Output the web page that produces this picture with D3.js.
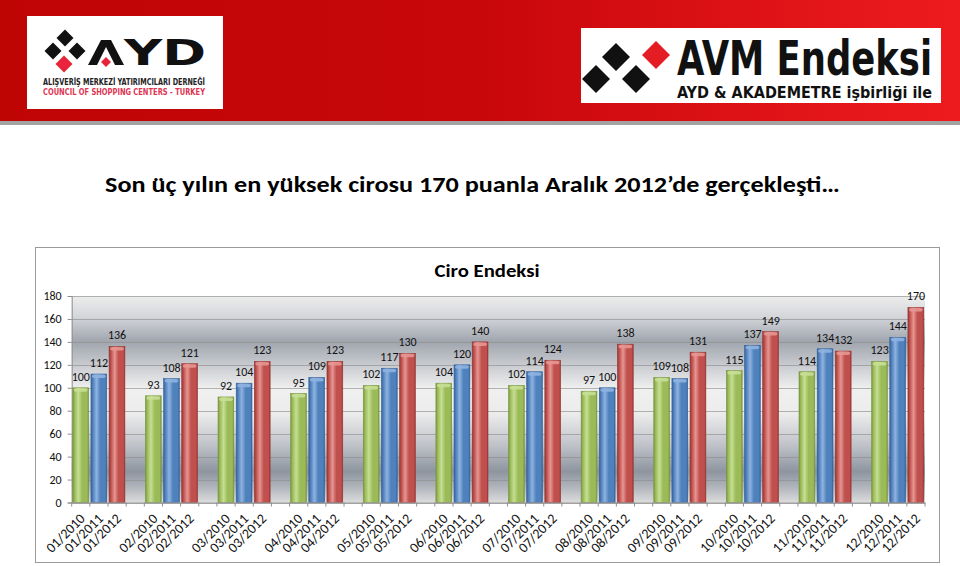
<!DOCTYPE html>
<html>
<head>
<meta charset="utf-8">
<script src="https://cdn.jsdelivr.net/npm/d3@7"></script>
<style>
html,body{margin:0;padding:0;background:#fff;}
svg{display:block;}
</style>
</head>
<body>
<svg id="c" width="960" height="566"></svg>
<script>
// ---------- DATA ----------
const months = ["01","02","03","04","05","06","07","08","09","10","11","12"];
const years = ["2010","2011","2012"];
const values2010 = [100, 93, 92, 95, 102, 104, 102, 97, 109, 115, 114, 123];
const values2011 = [112, 108, 104, 109, 117, 120, 114, 100, 108, 137, 134, 144];
const values2012 = [136, 121, 123, 123, 130, 140, 124, 138, 131, 149, 132, 170];
const yTicks = [0, 20, 40, 60, 80, 100, 120, 140, 160, 180];
const pageTitle = "Son üç yılın en yüksek cirosu 170 puanla Aralık 2012’de gerçekleşti…";
const chartTitle = "Ciro Endeksi";

const seriesValues = [values2010, values2011, values2012];
const seriesColors = [
  {dark:"#789640", base:"#9bbb59", light:"#c6df93"},
  {dark:"#36629a", base:"#4f81bd", light:"#8fb3e0"},
  {dark:"#983532", base:"#c0504d", light:"#e69692"}
];

// slots: 3 bars per month + an empty slot between month groups
const slots = [];
const bars = [];
months.forEach((m, i) => {
  years.forEach((yr, s) => {
    const key = m + "/" + yr;
    slots.push(key);
    bars.push({key, series: s, value: seriesValues[s][i]});
  });
  if (i < months.length - 1) slots.push("gap" + i);
});

const svg = d3.select("#c");
const defs = svg.append("defs");
const FONT = "Carlito, Lato, 'Open Sans', sans-serif";

// ---------- HEADER ----------
const hg = defs.append("linearGradient").attr("id","hdr").attr("x1",0).attr("x2",1).attr("y1",0).attr("y2",0);
hg.append("stop").attr("offset",0).attr("stop-color","#bf0404");
hg.append("stop").attr("offset",0.5).attr("stop-color","#c8070b");
hg.append("stop").attr("offset",1).attr("stop-color","#ee1b1e");
svg.append("rect").attr("x",0).attr("y",0).attr("width",960).attr("height",121).attr("fill","url(#hdr)");
svg.append("rect").attr("x",0).attr("y",121).attr("width",960).attr("height",4).attr("fill","#a3a3a3");

function diamond(g, cx, cy, r, fill) {
  g.append("path").attr("d", `M${cx},${cy-r}L${cx+r},${cy}L${cx},${cy+r}L${cx-r},${cy}Z`).attr("fill", fill);
}

// left logo
const LG = svg.append("g");
LG.append("rect").attr("x",27).attr("y",16).attr("width",196).attr("height",93).attr("fill","#fff");
diamond(LG, 65, 38, 8.5, "#111");
diamond(LG, 53, 51, 8.5, "#111");
diamond(LG, 77, 51, 8.5, "#111");
diamond(LG, 64, 64, 8.5, "#e8243c");
LG.append("path").attr("d","M88,65L101,40L111,40L124,65L115,65L106,47L97,65Z").attr("fill","#111");
diamond(LG, 106, 62, 5, "#e8243c");
LG.append("text").attr("x",124).attr("y",65).attr("font-family","'DejaVu Sans', sans-serif").attr("font-weight","bold")
  .attr("font-size",36).attr("textLength",82).attr("lengthAdjust","spacingAndGlyphs").attr("fill","#111").text("YD");
LG.append("text").attr("x",43).attr("y",85).attr("font-family","'DejaVu Sans Condensed', 'DejaVu Sans', sans-serif").attr("font-weight","bold")
  .attr("font-size",9).attr("textLength",162).attr("lengthAdjust","spacingAndGlyphs").attr("fill","#222").text("ALIŞVERİŞ MERKEZİ YATIRIMCILARI DERNEĞİ");
LG.append("text").attr("x",43).attr("y",95).attr("font-family","'DejaVu Sans Condensed', 'DejaVu Sans', sans-serif").attr("font-weight","bold")
  .attr("font-size",9).attr("textLength",162).attr("lengthAdjust","spacingAndGlyphs").attr("fill","#e03553").text("COUNCIL OF SHOPPING CENTERS - TURKEY");

// right logo
const RG = svg.append("g");
RG.append("rect").attr("x",581).attr("y",28).attr("width",360).attr("height",75).attr("fill","#fff");
diamond(RG, 596, 79, 14, "#111");
diamond(RG, 616, 57, 14, "#111");
diamond(RG, 636, 79, 14, "#111");
diamond(RG, 656, 55, 14, "#e41d24");
RG.append("text").attr("x",677).attr("y",75).attr("font-family","'Liberation Sans Narrow', 'DejaVu Sans Condensed', sans-serif").attr("font-weight","bold")
  .attr("font-size",48).attr("textLength",255).attr("lengthAdjust","spacingAndGlyphs").attr("fill","#111").text("AVM Endeksi");
RG.append("text").attr("x",677).attr("y",98).attr("font-family","'DejaVu Sans Condensed', 'DejaVu Sans', sans-serif").attr("font-weight","bold")
  .attr("font-size",16).attr("textLength",255).attr("lengthAdjust","spacingAndGlyphs").attr("fill","#111").text("AYD & AKADEMETRE işbirliği ile");

// ---------- PAGE TITLE ----------
svg.append("text").attr("x",105).attr("y",192).attr("font-family",FONT).attr("font-weight","bold")
  .attr("font-size",23).attr("textLength",735).attr("lengthAdjust","spacingAndGlyphs").attr("fill","#000").text(pageTitle);

// ---------- CHART FRAME ----------
svg.append("rect").attr("x",35.5).attr("y",247.5).attr("width",904).attr("height",315).attr("fill","#fff").attr("stroke","#9a9a9a");
svg.append("text").attr("x",487).attr("y",277).attr("text-anchor","middle").attr("font-family",FONT).attr("font-weight","bold")
  .attr("font-size",18).attr("textLength",105).attr("lengthAdjust","spacingAndGlyphs").attr("fill","#000").text(chartTitle);

// ---------- SCALES ----------
const pL = 71.7, pR = 925, pT = 296, pB = 502.5;
const x = d3.scaleBand().domain(slots).range([pL, pR]).padding(0);
const y = d3.scaleLinear().domain([0, 180]).range([pB, pT]);
const step = x.bandwidth();

// plot background gradient
const bgGrad = defs.append("linearGradient").attr("id","plotbg").attr("x1",0).attr("x2",0).attr("y1",0).attr("y2",1);
[[0,"#ededed"],[0.1,"#d4d6da"],[0.22,"#a0a5ae"],[0.32,"#c3c6cb"],[0.45,"#f0f0f0"],[0.57,"#ececec"],
 [0.72,"#c0c3c9"],[0.85,"#8e95a0"],[0.93,"#b3b7be"],[1,"#dcdcdc"]].forEach(s =>
  bgGrad.append("stop").attr("offset",s[0]).attr("stop-color",s[1]));
svg.append("rect").attr("x",pL).attr("y",pT).attr("width",pR-pL).attr("height",pB-pT).attr("fill","url(#plotbg)");

// gridlines
svg.append("g").selectAll("line").data(yTicks).join("line")
  .attr("x1",pL).attr("x2",pR).attr("y1",d=>Math.round(y(d))+0.5).attr("y2",d=>Math.round(y(d))+0.5)
  .attr("stroke","#8e8e8e").attr("stroke-width",0.8).attr("opacity",0.8);

// y axis
const yAxis = svg.append("g").attr("transform",`translate(${pL},0)`)
  .call(d3.axisLeft(y).tickValues(yTicks).tickSize(4).tickPadding(6));
yAxis.select(".domain").attr("stroke","#8e8e8e");
yAxis.selectAll(".tick line").attr("stroke","#8e8e8e");
yAxis.selectAll("text").attr("font-family",FONT).attr("font-size",12).attr("fill","#111");

// bar gradients
seriesColors.forEach((c, i) => {
  const g = defs.append("linearGradient").attr("id","bar"+i).attr("x1",0).attr("x2",1).attr("y1",0).attr("y2",0);
  g.append("stop").attr("offset",0).attr("stop-color",c.dark);
  g.append("stop").attr("offset",0.12).attr("stop-color",c.base);
  g.append("stop").attr("offset",0.35).attr("stop-color",c.light);
  g.append("stop").attr("offset",0.6).attr("stop-color",c.base);
  g.append("stop").attr("offset",0.9).attr("stop-color",c.base);
  g.append("stop").attr("offset",1).attr("stop-color",c.dark);
});

const barInset = step * 0.06, barW = step * 0.87;
const barG = svg.append("g");
barG.selectAll("rect.bar").data(bars).join("rect").attr("class","bar")
  .attr("x", d => x(d.key) + barInset)
  .attr("y", d => y(d.value))
  .attr("width", barW)
  .attr("height", d => y(0) - y(d.value))
  .attr("fill", d => `url(#bar${d.series})`)
  .attr("stroke", d => seriesColors[d.series].dark).attr("stroke-width",0.6);
// top caps
barG.selectAll("rect.cap").data(bars).join("rect").attr("class","cap")
  .attr("x", d => x(d.key) + barInset + 1)
  .attr("y", d => y(d.value) + 0.5)
  .attr("width", barW - 2)
  .attr("height", 3.5).attr("rx", 3)
  .attr("fill", d => seriesColors[d.series].light).attr("opacity",0.9);

// value labels
svg.append("g").selectAll("text").data(bars).join("text")
  .attr("x", d => x(d.key) + step / 2)
  .attr("y", d => y(d.value) - 7)
  .attr("text-anchor","middle").attr("font-family",FONT).attr("font-size",12).attr("fill","#111")
  .text(d => d.value);

// x axis
const xAxis = svg.append("g").attr("transform",`translate(0,${pB})`)
  .call(d3.axisBottom(x).tickSize(0).tickFormat(d => d.startsWith("gap") ? "" : d));
xAxis.select(".domain").attr("stroke","#8e8e8e");
xAxis.selectAll(".tick text")
  .attr("text-anchor","end").attr("x",0).attr("y",0).attr("dy",0)
  .attr("transform","translate(5,17) rotate(-45)")
  .attr("font-family",FONT).attr("font-size",14).attr("fill","#111");
// boundary tick marks (Excel-style, between categories)
svg.append("g").selectAll("line").data(slots.concat(["__end"])).join("line")
  .attr("x1", d => (d === "__end" ? pR : x(d)))
  .attr("x2", d => (d === "__end" ? pR : x(d)))
  .attr("y1", pB).attr("y2", pB + 4).attr("stroke","#8e8e8e");
</script>
</body>
</html>
